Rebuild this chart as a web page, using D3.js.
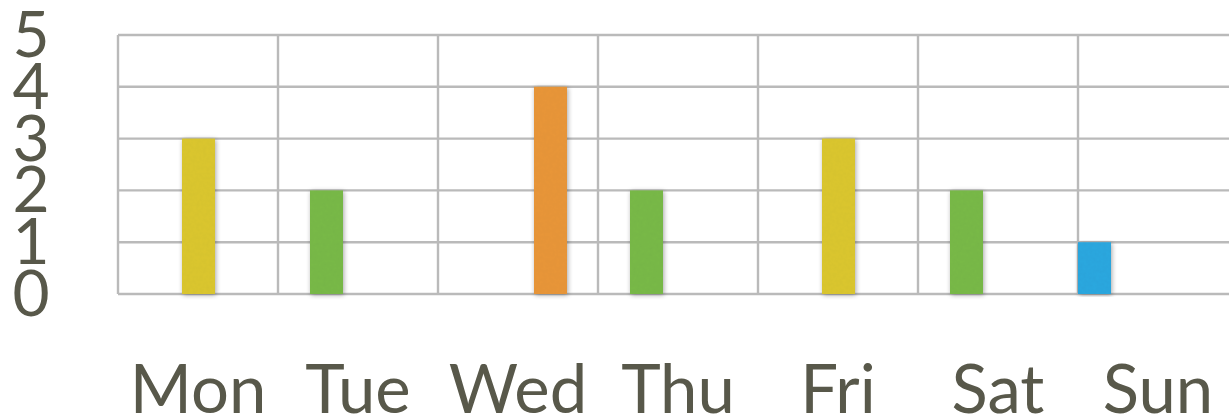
<!DOCTYPE html>
<html>
<head>
<meta charset="utf-8">
<script src="https://cdn.jsdelivr.net/npm/d3@7"></script>
<style>
html,body{margin:0;padding:0;background:#fff;}
svg{display:block;}
text{font-family:Lato,"Open Sans",sans-serif;fill:#58584a;}
</style>
</head>
<body>
<svg id="chart" width="1229" height="420"></svg>
<script>
const days = ["Mon","Tue","Wed","Thu","Fri","Sat","Sun"];
const seriesNames = ["blue","green","yellow","orange"];
const blueValues   = [0,0,0,0,0,0,1];
const greenValues  = [0,2,0,2,0,2,0];
const yellowValues = [3,0,0,0,3,0,0];
const orangeValues = [0,0,4,0,0,0,0];
const yTicks = [0,1,2,3,4,5];
const seriesColors = ["#2fa8e0","#79ba4a","#dcc732","#e9973b"];

const svg = d3.select("#chart");
const W = 1229;
const plotLeft = 118, plotTop = 35, plotBottom = 294;

const x = d3.scaleBand().domain(days).range([plotLeft, plotLeft + 160*7]).padding(0);
const x1 = d3.scaleBand().domain(seriesNames).range([0, x.bandwidth()*4/5]).padding(0);
const y = d3.scaleLinear().domain([0,5]).range([plotBottom, plotTop]);
const color = d3.scaleOrdinal().domain(seriesNames).range(seriesColors);

const defs = svg.append("defs");
const f = defs.append("filter").attr("id","shade").attr("x","-30%").attr("y","-5%").attr("width","160%").attr("height","110%");
f.append("feTurbulence").attr("type","fractalNoise").attr("baseFrequency","0.3").attr("numOctaves","2").attr("seed","3").attr("result","noise");
f.append("feColorMatrix").attr("in","noise").attr("type","matrix")
  .attr("values","0 0 0 0 0  0 0 0 0 0  0 0 0 0 0  0 0 0 0.06 0").attr("result","dark");
f.append("feComposite").attr("in","dark").attr("in2","SourceGraphic").attr("operator","in").attr("result","darkIn");
f.append("feGaussianBlur").attr("in","SourceAlpha").attr("stdDeviation","2.5").attr("result","blur");
f.append("feOffset").attr("in","blur").attr("dx","1").attr("dy","1").attr("result","off");
f.append("feComponentTransfer").attr("in","off").attr("result","shadow")
  .append("feFuncA").attr("type","linear").attr("slope","0.35");
const m = f.append("feMerge");
m.append("feMergeNode").attr("in","shadow");
m.append("feMergeNode").attr("in","SourceGraphic");
m.append("feMergeNode").attr("in","darkIn");

// horizontal grid
svg.append("g").attr("class","hgrid")
  .selectAll("line").data(yTicks).join("line")
  .attr("x1", plotLeft).attr("x2", W)
  .attr("y1", d => y(d)).attr("y2", d => y(d))
  .attr("stroke","#bababa").attr("stroke-width",2.4);

// vertical grid
svg.append("g").attr("class","vgrid")
  .selectAll("line").data(days).join("line")
  .attr("x1", d => x(d)).attr("x2", d => x(d))
  .attr("y1", y(5)).attr("y2", y(0))
  .attr("stroke","#bababa").attr("stroke-width",2.4);

// bars
const seriesData = [blueValues, greenValues, yellowValues, orangeValues];
const barData = [];
seriesData.forEach((vals, si) => {
  vals.forEach((v, di) => {
    if (v > 0) barData.push({day: days[di], series: seriesNames[si], value: v});
  });
});
svg.append("g").attr("class","bars")
  .selectAll("rect").data(barData).join("rect")
  .attr("x", d => x(d.day) + x1(d.series))
  .attr("width", x1.bandwidth() + 1)
  .attr("y", d => y(d.value))
  .attr("height", d => y(0) - y(d.value))
  .attr("fill", d => color(d.series))
  .attr("filter","url(#shade)");

// y labels
svg.append("g").attr("class","ylabels")
  .selectAll("text").data(yTicks).join("text")
  .attr("x", 31).attr("y", d => y(d) + 22)
  .attr("text-anchor","middle")
  .style("font-size","64px")
  .text(d => d);

// x labels
svg.append("g").attr("class","xlabels")
  .selectAll("text").data(days).join("text")
  .attr("x", d => x(d) + x.bandwidth()/2).attr("y", 413)
  .attr("text-anchor","middle")
  .style("font-size","67px")
  .text(d => d);
</script>
</body>
</html>
